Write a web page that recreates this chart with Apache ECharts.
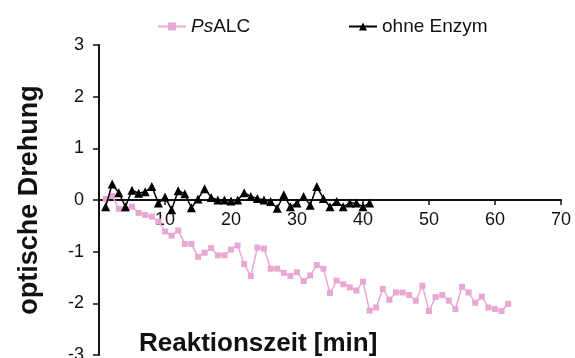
<!DOCTYPE html>
<html>
<head>
<meta charset="utf-8">
<script src="https://cdn.jsdelivr.net/npm/echarts@6/dist/echarts.min.js"></script>
<style>
  html, body { margin: 0; padding: 0; background: #fff; }
  #chart { width: 575px; height: 358px; }
</style>
</head>
<body>
<div id="chart"></div>
<script>
// Reaction time in minutes (one reading per minute)
const timePsALC = [1,2,3,4,5,6,7,8,9,10,11,12,13,14,15,16,17,18,19,20,21,22,23,24,25,26,27,28,29,30,31,32,33,34,35,36,37,38,39,40,41,42,43,44,45,46,47,48,49,50,51,52,53,54,55,56,57,58,59,60,61,62];
const rotationPsALC = [0.02,0.08,-0.17,-0.17,-0.13,-0.25,-0.29,-0.32,-0.42,-0.61,-0.69,-0.59,-0.85,-0.85,-1.10,-1.02,-0.93,-1.07,-1.07,-0.96,-0.88,-1.24,-1.47,-0.92,-0.94,-1.33,-1.33,-1.41,-1.47,-1.40,-1.57,-1.46,-1.26,-1.33,-1.80,-1.56,-1.63,-1.69,-1.75,-1.58,-2.14,-2.08,-1.72,-1.93,-1.79,-1.79,-1.84,-1.95,-1.66,-2.15,-1.88,-1.84,-1.95,-2.11,-1.68,-1.79,-1.99,-1.87,-2.08,-2.11,-2.15,-2.01];

const timeBlank = [1,2,3,4,5,6,7,8,9,10,11,12,13,14,15,16,17,18,19,20,21,22,23,24,25,26,27,28,29,30,31,32,33,34,35,36,37,38,39,40,41];
const rotationBlank = [-0.13,0.31,0.14,-0.13,0.19,0.13,0.16,0.26,-0.06,0.06,-0.19,0.18,0.12,-0.15,0.02,0.22,0.05,0.0,0.0,-0.02,0.0,0.14,0.07,0.03,0.0,-0.03,-0.16,0.10,-0.13,-0.06,0.07,-0.10,0.26,0.03,-0.13,-0.03,-0.13,-0.06,-0.06,-0.13,-0.06];

const seriesNames = ['PsALC', 'ohne Enzym'];
const xTitle = 'Reaktionszeit [min]';
const yTitle = 'optische Drehung';

const FONT = '"Liberation Sans", Arial, sans-serif';
const pink = '#e9a8d3';

// plot area: 310 px tall, so the zero line sits 155 px above the bottom edge
const GRID = { left: 99, right: 14, top: 45, bottom: 3 };
const plotHeight = 358 - GRID.top - GRID.bottom;

const pair = (xs, ys) => xs.map((x, i) => [x, ys[i]]);

const chart = echarts.init(document.getElementById('chart'), null, { renderer: 'canvas' });

chart.setOption({
  animation: false,
  backgroundColor: '#fff',
  textStyle: { fontFamily: FONT },
  grid: Object.assign({ containLabel: false, outerBoundsMode: 'none' }, GRID),
  legend: [
    {
      data: [seriesNames[0]],
      left: 152, top: 12,
      itemWidth: 28, itemHeight: 10,
      formatter: () => '{i|Ps}ALC',
      textStyle: {
        fontFamily: FONT, fontSize: 19, color: '#111',
        rich: { i: { fontFamily: FONT, fontSize: 19, fontStyle: 'italic', color: '#111' } }
      }
    },
    {
      data: [seriesNames[1]],
      left: 343, top: 12,
      itemWidth: 28, itemHeight: 10,
      textStyle: { fontFamily: FONT, fontSize: 19, color: '#111' }
    }
  ],
  title: {
    text: xTitle,
    left: 139, top: 331, padding: 0,
    textStyle: { fontFamily: FONT, fontSize: 26, fontWeight: 'bold', color: '#111' }
  },
  xAxis: {
    type: 'value',
    min: 0, max: 70, interval: 10,
    position: 'bottom',
    offset: -plotHeight / 2,
    axisLine: { onZero: false, lineStyle: { color: '#111', width: 2 } },
    axisTick: { show: true, length: 5, lineStyle: { color: '#111', width: 1.5 } },
    axisLabel: { showMinLabel: false, fontFamily: FONT, fontSize: 18, color: '#111', margin: 11 },
    splitLine: { show: false }
  },
  yAxis: {
    type: 'value',
    min: -3, max: 3, interval: 1,
    name: yTitle,
    nameLocation: 'middle',
    nameGap: 56,
    nameRotate: 90,
    nameTextStyle: { fontFamily: FONT, fontSize: 27, fontWeight: 'bold', color: '#111' },
    axisLine: { show: true, lineStyle: { color: '#111', width: 2 } },
    axisTick: { show: true, length: 6, lineStyle: { color: '#111', width: 1.5 } },
    axisLabel: { fontFamily: FONT, fontSize: 18, color: '#111', margin: 15 },
    splitLine: { show: false }
  },
  series: [
    {
      name: seriesNames[0],
      type: 'line',
      data: pair(timePsALC, rotationPsALC),
      symbol: 'rect',
      symbolSize: 6,
      showAllSymbol: true,
      lineStyle: { color: pink, width: 1.5 },
      itemStyle: { color: pink, borderWidth: 0 },
      z: 2
    },
    {
      name: seriesNames[1],
      type: 'line',
      data: pair(timeBlank, rotationBlank),
      symbol: 'triangle',
      symbolSize: 9,
      showAllSymbol: true,
      lineStyle: { color: '#000', width: 1.5 },
      itemStyle: { color: '#000', borderWidth: 0 },
      z: 3
    }
  ]
});
</script>
</body>
</html>
